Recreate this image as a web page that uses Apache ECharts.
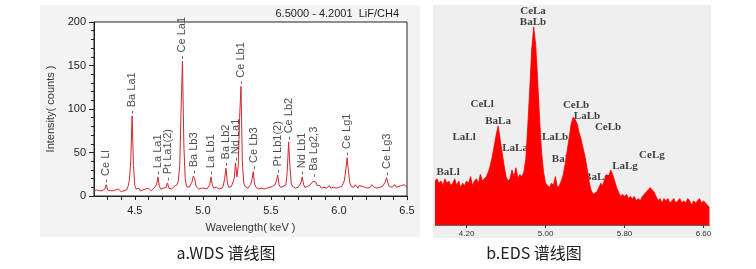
<!DOCTYPE html>
<html><head><meta charset="utf-8">
<script src="https://cdn.jsdelivr.net/npm/echarts@6/dist/echarts.min.js"></script>
<style>html,body{margin:0;padding:0;background:#fff}#c{width:756px;height:269px}</style>
</head><body><div id="c"></div>
<script>
// ---------- WDS (left panel) ----------
const wdsStartKeV = 4.20;
const wdsStepKeV = 0.01;
const wdsIntensity = [
  6,5,7,5,6,8,6,5,8,13,          // 4.20-4.29
  7,5,6,8,6,5,7,6,8,6,           // 4.30-4.39
  5,7,6,8,7,11,18,40,92,35,      // 4.40-4.49
  12,8,7,9,6,8,7,6,8,7,          // 4.50-4.59
  9,7,6,8,9,10,13,22,11,8,       // 4.60-4.69
  7,9,8,10,15,9,7,8,9,11,        // 4.70-4.79
  11,13,18,35,100,155,60,20,11,9,// 4.80-4.89
  10,12,16,23,20,11,9,8,10,9,    // 4.90-4.99
  8,9,10,8,9,13,22,12,9,8,       // 5.00-5.09
  10,9,8,10,9,12,20,32,15,10,    // 5.10-5.19
  9,11,13,20,38,22,35,90,126,40, // 5.20-5.29
  15,11,10,9,11,13,18,28,14,10,  // 5.30-5.39
  9,8,10,9,11,8,10,9,8,10,       // 5.40-5.49
  9,11,10,13,17,24,13,10,12,11,  // 5.50-5.59
  11,13,28,62,34,14,11,10,9,11,  // 5.60-5.69
  10,12,15,22,13,10,12,11,10,13, // 5.70-5.79
  14,17,19,16,12,10,12,9,11,10,  // 5.80-5.89
  11,9,10,12,9,11,10,12,9,11,    // 5.90-5.99
  10,12,11,14,18,30,44,28,15,11, // 6.00-6.09
  12,10,13,11,9,12,10,11,13,10,  // 6.10-6.19
  12,9,11,10,13,11,10,12,9,11,   // 6.20-6.29
  10,12,11,13,16,21,15,11,12,10, // 6.30-6.39
  11,13,10,12,11,9,12,10,13,11,  // 6.40-6.49
  10                             // 6.50
];
const wdsPeakNames  = ['Ce Ll','Ba La1','La La1','Pt La1(2)','Ce La1','Ba Lb3','La Lb1','Ba Lb2','Nd La1','Ce Lb1','Ce Lb3','Pt Lb1(2)','Ce Lb2','Nd Lb1','Ba Lg2,3','Ce Lg1','Ce Lg3'];
const wdsPeakKeV    = [4.29, 4.48, 4.67, 4.74, 4.85, 4.935, 5.06, 5.17, 5.24, 5.28, 5.375, 5.55, 5.635, 5.73, 5.82, 6.06, 6.355];
const wdsPeakCounts = [13, 92, 22, 15, 155, 23, 22, 32, 38, 126, 28, 24, 62, 22, 19, 44, 21];
const wdsXLabels = [4.5, 5.0, 5.5, 6.0, 6.5];
const wdsXTicks = [4.3,4.4,4.5,4.6,4.7,4.8,4.9,5.0,5.1,5.2,5.3,5.4,5.5,5.6,5.7,5.8,5.9,6.0,6.1,6.2,6.3,6.4,6.5];
const wdsTitle = '6.5000 - 4.2001  LiF/CH4';
const wdsCaption = 'a.WDS 谱线图';

// ---------- EDS (right panel) ----------
const edsStartKeV = 3.88;
const edsStepKeV = 0.02;
const edsCounts = [
  20,21,19,20,18,21,19,20,18,19,21,18,20,17,19,18,20,19,22,18,20,21,19,23,20,21,22, // 3.88-4.40
  24,27,31,36,41,45,39,33,27,22,20,   // 4.42-4.62
  21,25,22,26,21,23,22,24,            // 4.64-4.78
  30,45,62,80,90,82,66,48,33,24,19,   // 4.80-5.00
  18,17,19,18,22,17,18,20,            // 5.02-5.16
  23,28,34,40,46,49,48,46,42,39,35,31,26,20,16,14, // 5.18-5.48
  14,15,17,19,18,21,23,22,25,23,20,17,15,13,       // 5.50-5.76
  14,13,14,12,13,12,13,11,12,11,13,14,15,16,17,16,15,13,11,12,10,12,11,12,10,11,12,10,11,12,10,11,10,12,11,9,11,10,11,12,10,11,10,9,8 // 5.78-6.66
];
const edsLabelNames  = ['CeLa','BaLb','CeLl','BaLa','LaLl','LaLa','LaLb','BaLb','CeLb','LaLb','CeLb','BaLl','BaLg','LaLg','CeLg'];
const edsLabelKeV    = [4.873, 4.873, 4.357, 4.519, 4.175, 4.691, 5.096, 5.197, 5.309, 5.42, 5.633, 4.013, 5.52, 5.805, 6.078];
const edsLabelCounts = [97.3, 92.3, 55, 47.3, 40, 35, 40, 30, 54.5, 49.5, 44.5, 24, 21.8, 26.8, 31.8];
const edsTickValues = [4.20, 5.00, 5.80, 6.60];
const edsCaption = 'b.EDS 谱线图';

const sans = '"Liberation Sans", Arial, sans-serif';

const chart = echarts.init(document.getElementById('c'), null, {renderer: 'canvas'});
chart.setOption({
  animation: false,
  backgroundColor: '#fff',
  graphic: {elements: [
    {type: 'rect', z: -10, shape: {x: 40, y: 5, width: 380, height: 232}, style: {fill: '#f4f4f4'}, silent: true},
    {type: 'rect', z: -10, shape: {x: 433, y: 5, width: 278, height: 233}, style: {fill: '#efefef'}, silent: true},
    {type: 'text', z: 50, x: 399, y: 14, style: {text: wdsTitle, align: 'right', verticalAlign: 'middle', fontSize: 11, fontFamily: sans, fill: '#222'}},
    {type: 'text', z: 50, x: 226, y: 253, style: {text: wdsCaption, align: 'center', verticalAlign: 'middle', fontSize: 16, fontFamily: '"Noto Sans CJK SC", "Noto Sans", sans-serif', fill: '#222'}},
    {type: 'text', z: 50, x: 534, y: 253, style: {text: edsCaption, align: 'center', verticalAlign: 'middle', fontSize: 16, fontFamily: '"Noto Sans CJK SC", "Noto Sans", sans-serif', fill: '#222'}}
  ]},
  grid: [
    {left: 94, right: 349, top: 22, bottom: 73, show: true, backgroundColor: '#fff', borderColor: '#222', borderWidth: 1, containLabel: false},
    {left: 435, right: 46.6, top: 5, bottom: 44, show: false, containLabel: false}
  ],
  xAxis: [
    {
      type: 'value', gridIndex: 0, min: 4.2, max: 6.5,
      name: 'Wavelength( keV )', nameLocation: 'middle', nameGap: 26,
      nameTextStyle: {fontSize: 11, fontFamily: sans, color: '#333'},
      axisLine: {lineStyle: {color: '#222', width: 1}},
      axisTick: {show: true, customValues: wdsXTicks, length: 4, lineStyle: {color: '#222'}},
      axisLabel: {customValues: wdsXLabels, formatter: v => v.toFixed(1), fontSize: 11, fontFamily: sans, color: '#222', margin: 9},
      splitLine: {show: false}
    },
    {
      type: 'value', gridIndex: 1, min: 3.88, max: 6.66,
      axisLine: {lineStyle: {color: '#666', width: 1}},
      axisTick: {show: true, customValues: edsTickValues, length: 3, lineStyle: {color: '#333'}},
      axisLabel: {customValues: edsTickValues, formatter: v => v.toFixed(2), fontSize: 8, fontFamily: sans, color: '#333', margin: 5},
      splitLine: {show: false}
    }
  ],
  yAxis: [
    {
      type: 'value', gridIndex: 0, min: 0, max: 200, interval: 50,
      name: 'Intensity( counts )', nameLocation: 'middle', nameGap: 38,
      nameTextStyle: {fontSize: 11, fontFamily: sans, color: '#333'},
      axisLine: {show: true, lineStyle: {color: '#222', width: 1}},
      axisTick: {show: true, length: 5, lineStyle: {color: '#222'}},
      minorTick: {show: true, splitNumber: 5, length: 3, lineStyle: {color: '#222'}},
      axisLabel: {fontSize: 11, fontFamily: sans, color: '#222', margin: 8},
      splitLine: {show: false}
    },
    {type: 'value', gridIndex: 1, min: 0, max: 100, show: false, splitLine: {show: false}}
  ],
  series: [
    {
      type: 'line', xAxisIndex: 0, yAxisIndex: 0, z: 2, silent: true,
      showSymbol: false, symbol: 'none',
      data: wdsIntensity.map((v, i) => [+(wdsStartKeV + i * wdsStepKeV).toFixed(2), v]),
      lineStyle: {color: '#d42530', width: 1}
    },
    {
      type: 'scatter', xAxisIndex: 0, yAxisIndex: 0, z: 3, silent: true,
      symbolSize: 0,
      data: wdsPeakKeV.map((k, i) => ({name: wdsPeakNames[i], value: [k, wdsPeakCounts[i]]})),
      label: {show: true, formatter: '- {b}', position: 'top', distance: 2, rotate: 90, align: 'left', verticalAlign: 'middle', fontSize: 11, fontFamily: sans, color: '#222'}
    },
    {
      type: 'scatter', xAxisIndex: 1, yAxisIndex: 1, z: 1, silent: true,
      symbolSize: 0,
      data: edsLabelKeV.map((k, i) => ({name: edsLabelNames[i], value: [k, edsLabelCounts[i]]})),
      label: {show: true, formatter: '{b}', position: 'inside', fontSize: 11, fontWeight: 'bold', fontFamily: '"Liberation Serif", "Times New Roman", serif', color: '#111'}
    },
    {
      type: 'line', xAxisIndex: 1, yAxisIndex: 1, z: 2, silent: true,
      showSymbol: false, symbol: 'none',
      data: edsCounts.map((v, i) => [+(edsStartKeV + i * edsStepKeV).toFixed(2), v]),
      lineStyle: {color: '#ff0000', width: 0.8},
      areaStyle: {color: '#ff0000', opacity: 1}
    }
  ]
});
</script>
</body></html>
